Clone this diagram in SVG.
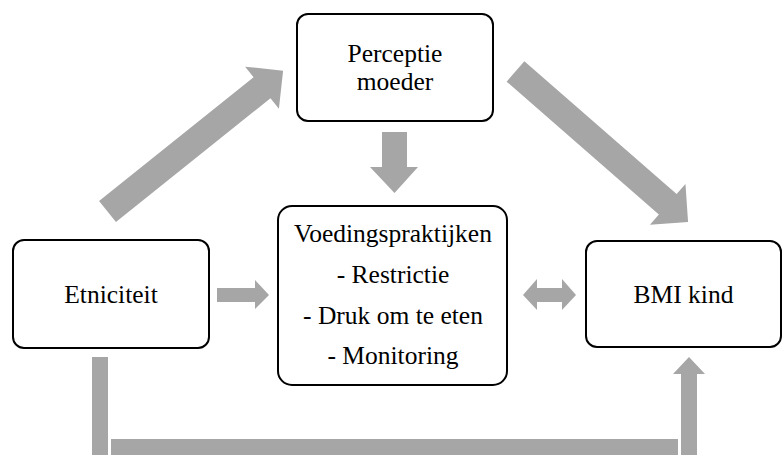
<svg xmlns="http://www.w3.org/2000/svg" width="784" height="455" viewBox="0 0 784 455">
  <style>
    .box { fill: #ffffff; stroke: #000000; stroke-width: 2; }
    .lbl { font-family: 'Liberation Serif', 'Times New Roman', Times, serif; font-size: 25.5px; fill: #000000; text-anchor: middle; }
    .arr { fill: #a6a6a6; stroke: none; }
  </style>
  <rect width="784" height="455" fill="#ffffff"/>

  <g id="connectors">
    <!-- Etniciteit -> Perceptie moeder -->
    <polygon class="arr" transform="translate(107.5,211.5) rotate(-38.7)" points="0,-13.5 198,-13.5 198,-27 225,0 198,27 198,13.5 0,13.5"/>
    <!-- Perceptie moeder -> BMI kind -->
    <polygon class="arr" transform="translate(515.5,71.5) rotate(41.1)" points="0,-13.5 202,-13.5 202,-27 229,0 202,27 202,13.5 0,13.5"/>
    <!-- Perceptie moeder -> Voedingspraktijken -->
    <polygon class="arr" points="382,132 407,132 407,167 418,167 394.5,193 370,167 382,167"/>
    <!-- Etniciteit -> Voedingspraktijken -->
    <polygon class="arr" points="217,288 255,288 255,280 269,295 255,309 255,302 217,302"/>
    <!-- Voedingspraktijken <-> BMI kind -->
    <polygon class="arr" points="523,295 537,279 537,288 562,288 562,279 576,295 562,310 562,302 537,302 537,310"/>
    <!-- Etniciteit -> BMI kind (bottom route) -->
    <rect class="arr" x="92" y="357" width="16" height="98"/>
    <rect class="arr" x="111" y="439" width="567" height="16"/>
    <polygon class="arr" points="681,455 681,374 673,374 689,357 705,374 697,374 697,455"/>
  </g>

  <g id="node-perceptie">
    <rect class="box" x="297" y="14" width="196" height="107" rx="11"/>
    <text class="lbl" x="395" y="62">Perceptie</text>
    <text class="lbl" x="395" y="90">moeder</text>
  </g>

  <g id="node-etniciteit">
    <rect class="box" x="13" y="240" width="196" height="108" rx="11"/>
    <text class="lbl" x="111" y="303">Etniciteit</text>
  </g>

  <g id="node-voeding">
    <rect class="box" x="278" y="206" width="229" height="179" rx="14"/>
    <text class="lbl" x="393" y="242">Voedingspraktijken</text>
    <text class="lbl" x="393" y="283">- Restrictie</text>
    <text class="lbl" x="393" y="324">- Druk om te eten</text>
    <text class="lbl" x="393" y="364">- Monitoring</text>
  </g>

  <g id="node-bmi">
    <rect class="box" x="586" y="241" width="195" height="106" rx="11"/>
    <text class="lbl" x="683.5" y="303">BMI kind</text>
  </g>
</svg>
